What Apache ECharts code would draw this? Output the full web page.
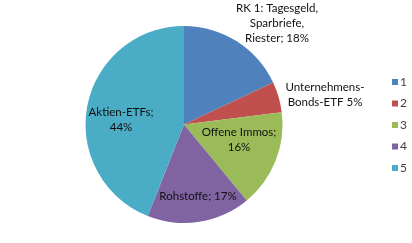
<!DOCTYPE html>
<html>
<head>
<meta charset="utf-8">
<script src="https://cdn.jsdelivr.net/npm/echarts@6/dist/echarts.min.js"></script>
<style>html,body{margin:0;padding:0;background:#fff;}#c{width:412px;height:243px;}</style>
</head>
<body>
<div id="c"></div>
<script>
const categories = ['1', '2', '3', '4', '5'];
const values = [18, 5, 16, 17, 44];
const labelTexts = [
  'RK 1: Tagesgeld,\nSparbriefe,\nRiester; 18%',
  'Unternehmens-\nBonds-ETF 5%',
  'Offene Immos;\n16%',
  'Rohstoffe; 17%',
  'Aktien-ETFs;\n44%'
];
const colors = ['#4F81BD', '#C0504D', '#9BBB59', '#8064A2', '#4BACC6'];
const labelPos = [[277, 23], [325, 95], [239, 140], [198, 196], [121, 120]];

const chart = echarts.init(document.getElementById('c'), null, {renderer: 'canvas'});
chart.setOption({
  animation: false,
  color: colors,
  legend: {
    orient: 'vertical',
    left: 387,
    top: 70,
    itemWidth: 6,
    itemHeight: 6,
    itemGap: 7.5,
    icon: 'rect',
    textStyle: {fontFamily: 'Lato', fontSize: 12, color: '#404040', lineHeight: 14, padding: [0, 0, 0, -3]},
    data: categories
  },
  series: [{
    type: 'pie',
    center: [184, 124.5],
    radius: 98.5,
    startAngle: 90,
    clockwise: true,
    silent: true,
    itemStyle: {borderWidth: 0},
    label: {
      show: true,
      position: 'inside',
      fontFamily: 'Lato',
      fontSize: 11.5,
      lineHeight: 15,
      color: '#111',
      align: 'center',
      formatter: p => labelTexts[p.dataIndex]
    },
    labelLine: {show: false},
    labelLayout: function (p) {
      const pos = labelPos[p.dataIndex];
      return {x: pos[0], y: pos[1], align: 'center', verticalAlign: 'middle'};
    },
    data: categories.map((c, i) => ({name: c, value: values[i]}))
  }]
});
</script>
</body>
</html>
